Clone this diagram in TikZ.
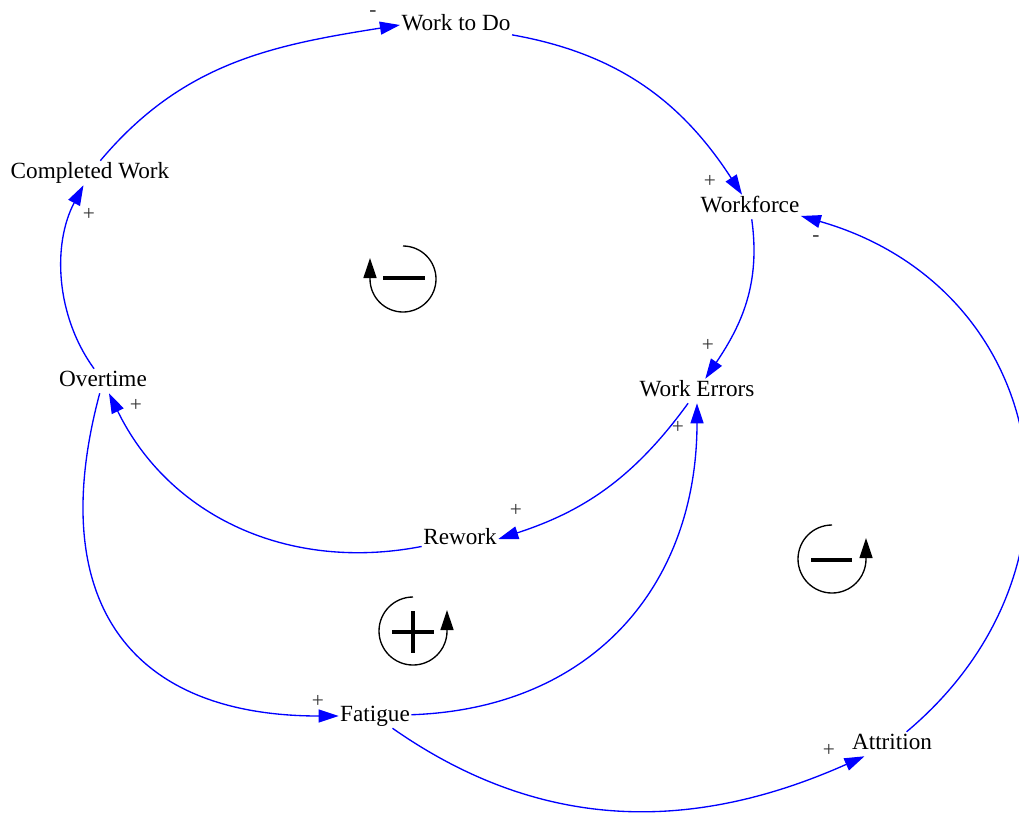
\documentclass[tikz,border=0pt]{standalone}
\usepackage{fontspec}
\setmainfont{Liberation Serif}
\usetikzlibrary{arrows.meta,positioning}

\begin{document}
\begin{tikzpicture}[x=0.75pt, y=0.75pt,
  var/.style={font=\fontsize{17.4}{20}\selectfont, inner sep=1pt,
    text height=12.2pt, text depth=3.8pt},
  link/.style={draw=blue, line width=1pt, -{Triangle[length=15pt, width=9.75pt]}},
  sign/.style={font=\fontsize{16}{18}\selectfont, text=black!80, inner sep=0pt},
  looparc/.style={line width=1pt, -{Triangle[length=15pt, width=9.75pt]}},
  loopbar/.style={line width=3pt}]
  \useasboundingbox (0,0) rectangle (1019,-814);

  % variables
  \node[var] (wtd)  at (456,-25)  {Work to Do};
  \node[var] (cw)   at (90,-173)  {Completed Work};
  \node[var] (wf)   at (750,-207) {Workforce};
  \node[var] (we)   at (697,-391) {Work Errors};
  \node[var] (ot)   at (103,-381) {Overtime};
  \node[var] (rw)   at (460,-539) {Rework};
  \node[var] (fa)   at (375,-716) {Fatigue};
  \node[var] (attr) at (892,-744) {Attrition};

  % causal links
  \draw[link] (cw) to[out=50, in=189] (wtd.west);
  \draw[link] (wtd) to[out=-10, in=123] (wf);
  \draw[link] (wf) to[out=-82, in=56] (we);
  \draw[link] (we) to[out=234, in=18] (rw.east);
  \draw[link] (rw) to[out=191, in=-64] (ot);
  \draw[link] (ot) to[out=126, in=242, looseness=0.92] (cw);
  \draw[link] (ot) to[out=255, in=180, looseness=1.35] (fa);
  \draw[link] (fa) to[out=2, in=270, looseness=1.1] (we);
  \draw[link] (fa) to[out=-35, in=204] (attr);
  \draw[link] (attr) to[out=40, in=-16, looseness=1.25] (wf.-10);

  % polarities
  \node[sign] (s1)  at (373,-14)  {-};
  \node[sign] (s2)  at (710,-181) {+};
  \node[sign] (s3)  at (708,-345) {+};
  \node[sign] (s4)  at (516,-510) {+};
  \node[sign] (s5)  at (136,-405) {+};
  \node[sign] (s6)  at (89,-214)  {+};
  \node[sign] (s7)  at (318,-701) {+};
  \node[sign] (s8)  at (678,-427) {+};
  \node[sign] (s9)  at (829,-750) {+};
  \node[sign] (s10) at (816,-239) {-};

  % loop markers
  \draw[looparc] (403,-246) arc[start angle=90, end angle=-180, radius=24.75pt] -- (370,-258);
  \draw[loopbar] (383,-278) -- (425,-278);

  \draw[looparc] (413,-597) arc[start angle=90, end angle=360, radius=25.5pt] -- (447,-610);
  \draw[loopbar] (392,-632) -- (434,-632);
  \draw[loopbar] (413,-611) -- (413,-653);

  \draw[looparc] (832,-525) arc[start angle=90, end angle=360, radius=25.5pt] -- (866,-538);
  \draw[loopbar] (811,-560) -- (852,-560);
\end{tikzpicture}
\end{document}
